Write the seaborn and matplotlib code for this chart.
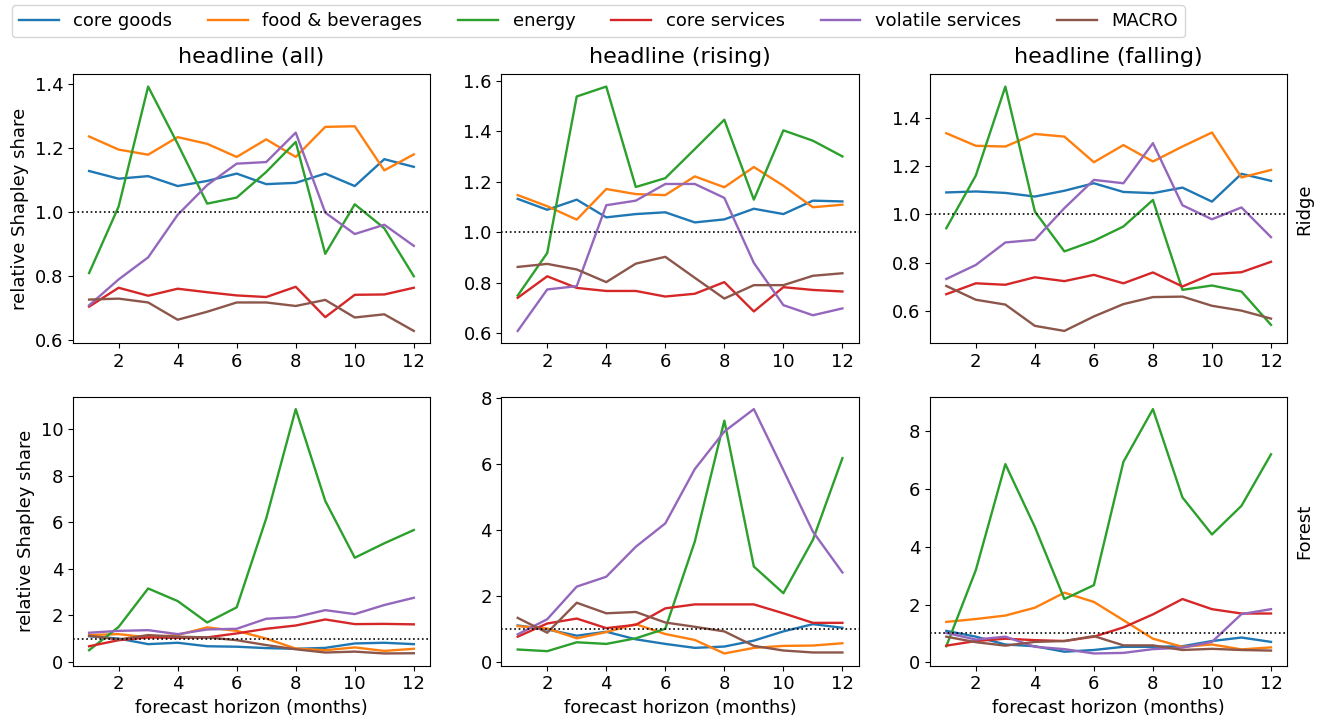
import numpy as np
import pandas as pd
import matplotlib
matplotlib.use("Agg")
import matplotlib.pyplot as plt
import seaborn as sns

horizons = list(range(1, 13))
categories = ["core goods", "food & beverages", "energy", "core services",
              "volatile services", "MACRO"]
regimes = ["headline (all)", "headline (rising)", "headline (falling)"]
models = ["Ridge", "Forest"]

ridge_all = {
    "core goods":        [1.128, 1.104, 1.112, 1.081, 1.097, 1.120, 1.087, 1.091, 1.120, 1.081, 1.165, 1.141],
    "food & beverages":  [1.236, 1.195, 1.179, 1.234, 1.213, 1.172, 1.227, 1.172, 1.266, 1.268, 1.130, 1.180],
    "energy":            [0.809, 1.017, 1.392, 1.213, 1.026, 1.045, 1.125, 1.219, 0.869, 1.024, 0.949, 0.799],
    "core services":     [0.704, 0.763, 0.738, 0.760, 0.749, 0.739, 0.734, 0.766, 0.671, 0.741, 0.742, 0.763],
    "volatile services": [0.708, 0.789, 0.858, 0.991, 1.084, 1.151, 1.156, 1.248, 0.998, 0.931, 0.960, 0.894],
    "MACRO":             [0.726, 0.729, 0.717, 0.663, 0.688, 0.717, 0.717, 0.706, 0.725, 0.670, 0.680, 0.628],
}
ridge_rising = {
    "core goods":        [1.132, 1.089, 1.129, 1.059, 1.072, 1.079, 1.039, 1.051, 1.093, 1.072, 1.125, 1.122],
    "food & beverages":  [1.147, 1.103, 1.050, 1.171, 1.151, 1.147, 1.221, 1.178, 1.258, 1.184, 1.099, 1.109],
    "energy":            [0.750, 0.918, 1.537, 1.576, 1.179, 1.214, 1.329, 1.445, 1.129, 1.403, 1.362, 1.300],
    "core services":     [0.741, 0.826, 0.780, 0.768, 0.768, 0.746, 0.757, 0.803, 0.687, 0.783, 0.772, 0.766],
    "volatile services": [0.610, 0.774, 0.787, 1.107, 1.125, 1.191, 1.191, 1.136, 0.879, 0.712, 0.672, 0.699],
    "MACRO":             [0.863, 0.875, 0.853, 0.803, 0.876, 0.903, 0.820, 0.738, 0.791, 0.791, 0.828, 0.838],
}
ridge_falling = {
    "core goods":        [1.090, 1.094, 1.088, 1.073, 1.097, 1.128, 1.092, 1.087, 1.110, 1.052, 1.167, 1.138],
    "food & beverages":  [1.335, 1.283, 1.280, 1.332, 1.321, 1.215, 1.286, 1.218, 1.280, 1.338, 1.152, 1.183],
    "energy":            [0.942, 1.160, 1.528, 1.011, 0.846, 0.890, 0.949, 1.059, 0.687, 0.705, 0.680, 0.542],
    "core services":     [0.669, 0.714, 0.708, 0.739, 0.723, 0.749, 0.714, 0.759, 0.701, 0.752, 0.760, 0.803],
    "volatile services": [0.732, 0.790, 0.883, 0.894, 1.025, 1.142, 1.128, 1.294, 1.037, 0.979, 1.028, 0.905],
    "MACRO":             [0.703, 0.646, 0.626, 0.538, 0.517, 0.577, 0.628, 0.657, 0.659, 0.621, 0.601, 0.568],
}
forest_all = {
    "core goods":        [1.10, 1.00, 0.76, 0.82, 0.67, 0.65, 0.59, 0.56, 0.60, 0.79, 0.82, 0.76],
    "food & beverages":  [1.15, 1.19, 1.05, 1.15, 1.48, 1.33, 1.00, 0.57, 0.50, 0.62, 0.47, 0.56],
    "energy":            [0.50, 1.50, 3.15, 2.61, 1.69, 2.34, 6.16, 10.85, 6.91, 4.47, 5.09, 5.66],
    "core services":     [0.67, 0.93, 1.05, 1.03, 1.05, 1.22, 1.42, 1.56, 1.82, 1.62, 1.63, 1.61],
    "volatile services": [1.25, 1.33, 1.36, 1.19, 1.39, 1.42, 1.85, 1.92, 2.22, 2.05, 2.44, 2.75],
    "MACRO":             [1.12, 0.96, 1.15, 1.08, 1.05, 0.93, 0.72, 0.54, 0.40, 0.44, 0.36, 0.37],
}
forest_rising = {
    "core goods":        [1.10, 0.98, 0.79, 0.91, 0.68, 0.54, 0.42, 0.46, 0.64, 0.92, 1.14, 1.03],
    "food & beverages":  [1.08, 1.01, 0.71, 0.90, 1.14, 0.84, 0.66, 0.25, 0.42, 0.48, 0.49, 0.56],
    "energy":            [0.37, 0.32, 0.59, 0.54, 0.71, 1.00, 3.65, 7.32, 2.89, 2.08, 3.70, 6.18],
    "core services":     [0.76, 1.16, 1.31, 1.02, 1.12, 1.62, 1.74, 1.74, 1.74, 1.47, 1.18, 1.18],
    "volatile services": [0.83, 1.29, 2.28, 2.58, 3.49, 4.20, 5.85, 6.99, 7.67, 5.82, 3.95, 2.71],
    "MACRO":             [1.33, 0.88, 1.79, 1.47, 1.51, 1.19, 1.06, 0.92, 0.48, 0.34, 0.28, 0.28],
}
forest_falling = {
    "core goods":        [1.09, 0.89, 0.62, 0.56, 0.37, 0.43, 0.54, 0.54, 0.56, 0.74, 0.86, 0.71],
    "food & beverages":  [1.40, 1.50, 1.62, 1.89, 2.41, 2.09, 1.46, 0.82, 0.54, 0.62, 0.45, 0.52],
    "energy":            [0.56, 3.19, 6.85, 4.68, 2.19, 2.67, 6.93, 8.75, 5.70, 4.42, 5.41, 7.19],
    "core services":     [0.58, 0.74, 0.82, 0.77, 0.74, 0.89, 1.21, 1.66, 2.19, 1.84, 1.69, 1.69],
    "volatile services": [1.02, 0.79, 0.89, 0.54, 0.46, 0.31, 0.33, 0.46, 0.51, 0.71, 1.67, 1.84],
    "MACRO":             [0.89, 0.70, 0.58, 0.71, 0.74, 0.91, 0.59, 0.59, 0.43, 0.47, 0.43, 0.41],
}

panels = {
    ("Ridge", "headline (all)"): ridge_all,
    ("Ridge", "headline (rising)"): ridge_rising,
    ("Ridge", "headline (falling)"): ridge_falling,
    ("Forest", "headline (all)"): forest_all,
    ("Forest", "headline (rising)"): forest_rising,
    ("Forest", "headline (falling)"): forest_falling,
}

palette = dict(zip(categories, sns.color_palette("tab10", 6)))

plt.rcParams["font.family"] = ["DejaVu Sans"]
plt.rcParams["font.size"] = 13

fig, axes = plt.subplots(2, 3, figsize=(13.25, 7.22), dpi=100)
fig.subplots_adjust(left=0.055, right=0.9715, top=0.897, bottom=0.078,
                    wspace=0.2, hspace=0.2)

for i, model in enumerate(models):
    for j, regime in enumerate(regimes):
        ax = axes[i, j]
        data = panels[(model, regime)]
        rows = []
        for cat in categories:
            for h, v in zip(horizons, data[cat]):
                rows.append({"horizon": h, "share": v, "category": cat})
        df = pd.DataFrame(rows)
        sns.lineplot(data=df, x="horizon", y="share", hue="category",
                     hue_order=categories, palette=palette, ax=ax,
                     linewidth=1.7, legend=False)
        ax.axhline(1.0, color="black", linestyle=":", linewidth=1.2)
        ax.set_xticks([2, 4, 6, 8, 10, 12])
        ax.tick_params(labelsize=13)
        if i == 0:
            ax.set_title(regime, fontsize=16, pad=8)
            ax.set_xlabel("")
        else:
            ax.set_xlabel("forecast horizon (months)", fontsize=13)
        if j == 0:
            ax.set_ylabel("relative Shapley share", fontsize=13)
        else:
            ax.set_ylabel("")
        if j == 2:
            ax.text(1.022, 0.5, model, transform=ax.transAxes, rotation=90,
                    va="center", ha="left", fontsize=13)

handles = [plt.Line2D([], [], color=palette[c], linewidth=1.7) for c in categories]
fig.legend(handles, categories, loc="upper left", bbox_to_anchor=(0.006, 0.998),
           ncol=6, fontsize=13, frameon=True, handlelength=2.2,
           columnspacing=2.0, borderaxespad=0.2)

fig.savefig("out.png", dpi=100)
